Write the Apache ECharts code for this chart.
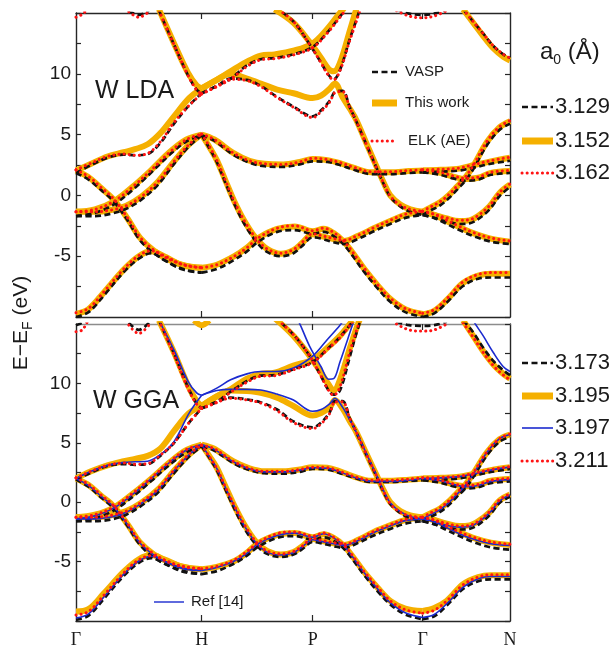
<!DOCTYPE html>
<html><head><meta charset="utf-8">
<script src="https://cdn.jsdelivr.net/npm/echarts@6/dist/echarts.min.js"></script>
<style>html,body{margin:0;padding:0;background:#fff}#c{width:614px;height:649px}</style>
</head><body><div id="c"></div>
<script>
// ---- high-symmetry path ----
const kPathPos = [0, 1, 1.883, 2.758, 3.453];
const kPathLabels = ['Γ', 'H', 'P', 'Γ', 'N'];
const yMin = -10, yMax = 15, yStep = 2.5;
const panelNames = ['W LDA', 'W GGA'];
const methodNames = ['VASP', 'This work', 'ELK (AE)'];
const refName = 'Ref [14]';
const ldaLattice = ['3.129', '3.152', '3.162'];
const ggaLattice = ['3.173', '3.195', '3.197', '3.211'];

// ---- k sampling of each band (shared by all data sets) ----
const kGrid = [
  [0,0.1,0.22,0.38,0.5,0.6,0.7,0.85,1],
  [0,0.1,0.2,0.3,0.41,0.51,0.62,0.75,0.88,1],
  [0,0.15,0.3,0.45,0.6,0.75,0.88,1],
  [0,0.15,0.28,0.4,0.52,0.65,0.78,0.9,1],
  [0,0.12,0.25,0.38,0.47,0.57,0.67,0.78,0.9,1],
  [0.66,0.78,0.89,0.96,1],
  [1,1.12,1.26,1.36,1.45,1.6,1.74,1.883,1.97,2.05,2.13,2.2,2.29,2.4,2.5,2.62,2.758],
  [1,1.06,1.12,1.19,1.26,1.34,1.43,1.52,1.63,1.73,1.8,1.883,1.95,2.05,2.13,2.25,2.37,2.5,2.62,2.758],
  [1,1.1,1.25,1.38,1.5,1.65,1.78,1.883,2.0,2.1,2.2,2.35,2.5,2.65,2.758],
  [1,1.12,1.23,1.36,1.47,1.6,1.73,1.883,1.95,2.02,2.06,2.12,2.18,2.23,2.31,2.39,2.45,2.5,2.58,2.66,2.758],
  [1,1.12,1.23,1.36,1.47,1.58,1.73,1.883,2.0,2.1,2.2],
  [1.58,1.73,1.86,1.95,2.01,2.05,2.1,2.18,2.23,2.28],
  [2.758,2.85,2.95,3.08,3.2,3.3,3.453],
  [2.758,2.85,2.95,3.05,3.16,3.3,3.453],
  [2.758,2.85,2.95,3.05,3.13,3.2,3.29,3.37,3.453],
  [2.758,2.82,2.9,2.97,3.03,3.1,3.16,3.27,3.37,3.453],
  [2.758,2.9,3.05,3.17,3.3,3.453],
  [2.758,2.9,3.0,3.1,3.2,3.3,3.453],
  [3.08,3.16,3.24,3.32,3.4,3.453],
  [0,0.05,0.09],
  [0.42,0.5,0.58],
  [2.55,2.65,2.758,2.85,2.95],
  [0.94,1,1.06]
];

// ---- LDA energies (eV) ----
const ldaVasp = [
  [-10.0,-9.6,-8.25,-6.3,-5.2,-4.75,-5.3,-6.1,-6.35],
  [1.85,1.3,0.45,-0.5,-2.05,-3.7,-4.75,-5.6,-6.15,-6.35],
  [-1.7,-1.45,-0.75,0.45,1.9,3.4,4.45,4.95],
  [-1.7,-1.7,-1.5,-1.1,-0.35,0.85,2.6,4.05,4.95],
  [1.85,2.5,3.1,3.35,3.3,3.4,4.3,5.9,7.4,8.4],
  [15.2,12.4,9.9,8.7,8.4],
  [-6.35,-6.05,-5.3,-4.6,-3.8,-3.0,-2.85,-3.15,-3.0,-3.35,-4.05,-4.95,-6.25,-7.65,-8.75,-9.6,-10.0],
  [4.95,3.9,2.75,1.0,-0.7,-2.35,-3.75,-4.65,-5.0,-4.75,-4.15,-3.45,-3.55,-3.85,-4.0,-3.55,-2.95,-2.35,-1.85,-1.6],
  [4.95,4.5,3.35,2.7,2.4,2.35,2.55,2.8,2.75,2.5,2.15,1.75,1.75,1.85,1.9],
  [8.4,9.0,9.6,9.5,9.0,8.1,7.3,6.5,7.0,7.8,8.5,8.6,7.2,6.1,4.2,2.3,0.9,-0.1,-0.9,-1.35,-1.6],
  [8.4,9.0,9.6,10.7,11.2,11.3,11.6,12.2,13.4,14.7,16.0],
  [15.5,14.3,12.4,10.9,9.9,9.55,10.3,12.9,14.4,16.0],
  [-10.0,-9.7,-8.8,-7.45,-6.85,-6.75,-6.75],
  [-1.6,-1.85,-2.35,-2.85,-3.35,-3.8,-4.0],
  [-1.6,-1.85,-2.15,-2.35,-2.3,-1.95,-1.15,-0.05,0.7],
  [-1.6,-1.25,-0.8,-0.2,0.45,1.25,2.15,4.15,5.4,5.9],
  [1.9,1.95,2.05,2.3,2.6,2.85],
  [1.9,1.7,1.4,1.2,1.3,1.7,1.85],
  [15.3,14.3,13.3,12.3,11.6,11.3],
  null,
  [15.2,14.85,15.2],
  [15.3,14.95,14.85,14.95,15.3],
  null
];
const ldaThis = [
  [-9.75,-9.35,-8.0,-6.1,-5.0,-4.6,-5.0,-5.75,-5.95],
  [2.05,1.5,0.6,-0.35,-1.9,-3.5,-4.55,-5.35,-5.8,-5.95],
  [-1.35,-1.15,-0.5,0.7,2.1,3.6,4.6,5.0],
  [-1.35,-1.35,-1.2,-0.85,-0.1,1.1,2.8,4.2,5.0],
  [2.05,2.6,3.2,3.55,3.8,4.2,5.1,6.5,8.0,8.8],
  [15.3,12.5,10.1,9.05,8.8],
  [-5.95,-5.7,-5.0,-4.3,-3.5,-2.75,-2.55,-2.95,-2.75,-3.1,-3.8,-4.7,-6.0,-7.4,-8.5,-9.35,-9.75],
  [5.0,4.0,2.9,1.2,-0.5,-2.1,-3.5,-4.4,-4.8,-4.5,-3.9,-3.2,-3.35,-3.6,-3.75,-3.3,-2.7,-2.1,-1.6,-1.35],
  [5.0,4.6,3.5,2.85,2.6,2.55,2.75,3.0,2.9,2.65,2.3,1.9,1.9,2.0,2.05],
  [8.8,9.5,10.0,9.6,9.2,8.7,8.4,8.0,8.2,8.8,9.2,8.1,7.1,6.2,4.3,2.4,1.0,0.0,-0.75,-1.15,-1.35],
  [8.8,9.5,10.2,11.0,11.5,11.6,11.9,12.5,13.7,15.0,16.2],
  [15.3,14.2,12.6,11.3,10.4,10.2,10.9,13.6,15.3,16.8],
  [-9.8,-9.5,-8.6,-7.2,-6.6,-6.45,-6.45],
  [-1.35,-1.6,-2.1,-2.6,-3.1,-3.55,-3.8],
  [-1.35,-1.6,-1.9,-2.1,-2.05,-1.7,-0.9,0.2,0.9],
  [-1.35,-1.0,-0.55,0.05,0.7,1.5,2.4,4.4,5.6,6.1],
  [2.05,2.1,2.2,2.5,2.8,3.1],
  [2.05,1.85,1.55,1.35,1.45,1.85,2.0],
  [15.3,14.2,13.1,12.1,11.4,11.1],
  null, null, null, null
];
const ldaElk = [
  [-9.65,-9.3,-7.95,-6.05,-4.95,-4.55,-4.95,-5.7,-5.95],
  [2.1,1.55,0.65,-0.3,-1.85,-3.45,-4.5,-5.3,-5.75,-5.95],
  [-1.35,-1.15,-0.5,0.7,2.1,3.6,4.6,5.05],
  [-1.35,-1.35,-1.2,-0.85,-0.1,1.1,2.8,4.2,5.05],
  [2.1,2.65,3.2,3.4,3.3,3.45,4.4,6.0,7.4,8.35],
  [15.2,12.4,9.9,8.65,8.35],
  [-5.95,-5.7,-5.0,-4.3,-3.5,-2.7,-2.5,-2.9,-2.7,-3.05,-3.75,-4.65,-5.95,-7.35,-8.45,-9.3,-9.7],
  [5.05,4.05,2.9,1.2,-0.5,-2.1,-3.5,-4.4,-4.75,-4.45,-3.85,-3.15,-3.3,-3.55,-3.7,-3.25,-2.65,-2.05,-1.55,-1.3],
  [5.05,4.6,3.5,2.85,2.6,2.55,2.75,3.05,2.95,2.7,2.35,1.95,1.95,2.05,2.1],
  [8.35,8.95,9.55,9.45,8.95,8.05,7.25,6.4,6.9,7.7,8.45,8.55,7.15,6.1,4.2,2.3,0.95,-0.05,-0.8,-1.15,-1.3],
  [8.35,8.95,9.55,10.6,11.15,11.25,11.55,12.15,13.35,14.65,16.0],
  [15.5,14.3,12.4,10.9,9.85,9.5,10.25,12.8,14.3,15.9],
  [-9.7,-9.4,-8.5,-7.1,-6.5,-6.35,-6.35],
  [-1.3,-1.55,-2.05,-2.55,-3.05,-3.5,-3.75],
  [-1.3,-1.55,-1.85,-2.05,-2.0,-1.65,-0.85,0.25,0.95],
  [-1.3,-0.95,-0.5,0.1,0.75,1.55,2.45,4.45,5.65,6.15],
  [2.1,2.15,2.25,2.55,2.85,3.15],
  [2.1,1.9,1.6,1.4,1.5,1.9,2.05],
  [15.3,14.3,13.3,12.3,11.6,11.3],
  [14.65,14.9,15.3],
  [15.1,14.65,15.1],
  [15.2,14.75,14.6,14.75,15.2],
  null
];

// ---- GGA energies (eV) ----
const ggaVasp = [
  [-9.9,-9.55,-8.15,-6.2,-5.1,-4.7,-5.15,-5.85,-6.05],
  [1.9,1.3,0.4,-0.5,-2.0,-3.6,-4.65,-5.4,-5.85,-6.05],
  [-1.6,-1.35,-0.7,0.45,1.8,3.2,4.2,4.7],
  [-1.6,-1.6,-1.45,-1.05,-0.3,0.8,2.45,3.85,4.7],
  [1.9,2.5,3.05,3.2,3.15,3.2,3.9,5.0,6.7,7.9],
  [15.3,12.5,9.7,8.3,7.9],
  [-6.05,-5.8,-5.15,-4.5,-3.75,-3.0,-2.85,-3.15,-2.95,-3.25,-3.9,-4.8,-6.1,-7.5,-8.6,-9.45,-9.85],
  [4.7,3.75,2.7,1.05,-0.55,-2.2,-3.55,-4.35,-4.6,-4.4,-3.95,-3.35,-3.45,-3.7,-3.85,-3.4,-2.8,-2.25,-1.8,-1.6],
  [4.7,4.35,3.3,2.7,2.45,2.4,2.55,2.8,2.75,2.45,2.1,1.7,1.7,1.8,1.85],
  [7.9,8.45,8.8,8.65,8.4,7.8,6.8,6.3,6.7,7.6,8.5,8.5,7.0,5.9,4.0,2.2,0.8,-0.15,-0.9,-1.35,-1.6],
  [7.9,8.45,9.3,10.2,10.65,10.7,11.2,11.8,12.9,13.9,15.2],
  [15.6,14.1,12.3,10.6,9.4,9.05,9.4,12.3,14.2,15.8],
  [-9.85,-9.6,-8.7,-7.3,-6.65,-6.5,-6.5],
  [-1.6,-1.85,-2.35,-2.85,-3.35,-3.8,-4.0],
  [-1.6,-1.85,-2.1,-2.3,-2.25,-1.9,-1.1,-0.05,0.45],
  [-1.6,-1.25,-0.8,-0.2,0.45,1.2,2.1,3.95,5.1,5.5],
  [1.85,1.9,2.0,2.25,2.55,2.8],
  [1.85,1.65,1.35,1.15,1.25,1.6,1.75],
  [15.3,14.3,13.0,11.9,11.1,10.7],
  [14.9,15.1,15.4],
  [15.1,14.5,15.1],
  [15.2,14.9,14.85,14.9,15.2],
  null
];
const ggaThis = [
  [-9.2,-9.0,-7.7,-5.85,-4.8,-4.45,-4.8,-5.45,-5.65],
  [2.0,1.45,0.55,-0.35,-1.85,-3.4,-4.4,-5.1,-5.5,-5.65],
  [-1.27,-1.05,-0.45,0.7,2.0,3.4,4.4,4.85],
  [-1.27,-1.27,-1.1,-0.75,-0.05,1.05,2.65,4.0,4.85],
  [2.0,2.6,3.1,3.45,3.65,3.9,4.5,6.0,7.5,8.1],
  [15.3,12.6,9.85,8.5,8.1],
  [-5.65,-5.45,-4.95,-4.25,-3.45,-2.75,-2.6,-2.95,-2.7,-3.0,-3.65,-4.55,-5.85,-7.2,-8.3,-8.95,-9.15],
  [4.85,3.9,2.9,1.3,-0.3,-1.9,-3.3,-4.1,-4.4,-4.2,-3.7,-3.1,-3.25,-3.45,-3.6,-3.15,-2.5,-1.95,-1.5,-1.27],
  [4.85,4.5,3.45,2.85,2.6,2.6,2.75,2.95,2.9,2.6,2.2,1.8,1.8,1.9,2.0],
  [8.1,8.9,9.4,9.35,9.2,8.8,8.1,7.3,7.5,8.0,8.6,7.9,6.8,5.9,4.1,2.3,0.95,0.0,-0.75,-1.1,-1.27],
  [8.1,8.9,9.5,10.4,10.8,10.9,11.5,12.0,13.0,14.0,15.3],
  [15.5,14.0,12.3,10.9,9.9,9.4,10.3,13.0,14.6,16.0],
  [-9.15,-8.9,-8.3,-6.9,-6.3,-6.15,-6.15],
  [-1.27,-1.5,-2.0,-2.5,-3.0,-3.4,-3.6],
  [-1.27,-1.5,-1.8,-2.0,-1.95,-1.6,-0.85,0.15,0.65],
  [-1.27,-0.95,-0.5,0.1,0.75,1.5,2.4,4.2,5.3,5.7],
  [2.0,2.05,2.15,2.4,2.7,2.95],
  [2.0,1.8,1.5,1.35,1.45,1.8,1.95],
  [15.3,14.0,12.7,11.6,10.8,10.4],
  null, null, null,
  [15.3,14.9,15.3]
];
const ggaRef = [
  [-9.75,-9.4,-8.0,-6.05,-4.95,-4.55,-4.95,-5.6,-5.75],
  [2.0,1.4,0.5,-0.4,-1.9,-3.45,-4.45,-5.2,-5.6,-5.75],
  [-1.4,-1.15,-0.5,0.65,2.0,3.4,4.4,4.85],
  [-1.4,-1.4,-1.25,-0.85,-0.1,1.0,2.65,4.0,4.85],
  [2.0,2.6,3.1,3.35,3.4,3.45,4.0,5.1,7.5,9.0],
  [15.3,12.8,10.2,9.2,9.0],
  [-5.75,-5.5,-4.95,-4.3,-3.5,-2.8,-2.6,-2.95,-2.65,-3.0,-3.65,-4.6,-5.9,-7.3,-8.45,-9.3,-9.7],
  [4.85,3.85,2.85,1.2,-0.35,-2.0,-3.4,-4.2,-4.45,-4.25,-3.75,-3.15,-3.3,-3.5,-3.65,-3.2,-2.55,-2.0,-1.55,-1.4],
  [4.85,4.45,3.4,2.8,2.55,2.55,2.7,2.9,2.85,2.55,2.15,1.75,1.75,1.85,2.0],
  [9.0,9.4,9.5,9.5,9.45,9.1,8.6,7.65,7.8,8.3,8.75,8.0,6.9,5.9,4.1,2.3,0.9,-0.05,-0.8,-1.2,-1.4],
  [9.0,9.6,10.3,10.8,11.0,11.0,11.3,12.3,13.7,14.9,16.3],
  [17.5,16.0,13.1,11.4,10.35,10.4,11.8,14.3,15.9,17.5],
  [-9.7,-9.45,-8.55,-7.15,-6.45,-6.25,-6.25],
  [-1.4,-1.65,-2.15,-2.65,-3.1,-3.5,-3.65],
  [-1.4,-1.65,-1.95,-2.1,-2.05,-1.7,-0.9,0.1,0.6],
  [-1.4,-1.05,-0.6,0.0,0.65,1.45,2.35,4.2,5.35,5.7],
  [2.0,2.05,2.15,2.4,2.7,2.95],
  [2.0,1.8,1.5,1.3,1.4,1.75,1.9],
  [17.0,15.3,14.0,12.6,11.4,11.0],
  null, null, null, null
];
const ggaElk = [
  [-9.5,-9.2,-7.85,-5.95,-4.85,-4.5,-4.85,-5.45,-5.6],
  [2.05,1.5,0.6,-0.3,-1.8,-3.35,-4.35,-5.1,-5.45,-5.6],
  [-1.27,-1.05,-0.4,0.75,2.05,3.45,4.45,4.8],
  [-1.27,-1.27,-1.1,-0.75,0.0,1.1,2.7,4.05,4.8],
  [2.05,2.6,3.1,3.3,3.2,3.25,3.95,5.0,6.7,7.9],
  [15.3,12.4,9.6,8.25,7.9],
  [-5.6,-5.4,-4.85,-4.15,-3.4,-2.65,-2.5,-2.85,-2.6,-2.95,-3.6,-4.5,-5.8,-7.15,-8.3,-9.05,-9.35],
  [4.8,3.85,2.85,1.25,-0.3,-1.9,-3.3,-4.1,-4.35,-4.15,-3.7,-3.05,-3.2,-3.4,-3.55,-3.1,-2.45,-1.9,-1.45,-1.27],
  [4.8,4.5,3.45,2.85,2.6,2.6,2.75,2.95,2.9,2.6,2.2,1.85,1.85,1.95,2.05],
  [7.9,8.4,8.75,8.6,8.35,7.7,6.7,6.2,6.6,7.5,8.45,8.45,7.0,5.9,4.05,2.25,0.85,-0.1,-0.85,-1.15,-1.27],
  [7.9,8.4,9.25,10.1,10.6,10.65,11.15,11.75,12.85,13.85,15.2],
  [15.6,14.1,12.3,10.6,9.4,9.0,9.7,12.7,14.4,15.9],
  [-9.35,-9.1,-8.3,-6.95,-6.3,-6.1,-6.1],
  [-1.27,-1.5,-2.0,-2.5,-2.95,-3.35,-3.55],
  [-1.27,-1.5,-1.8,-2.0,-1.95,-1.6,-0.8,0.2,0.7],
  [-1.27,-0.9,-0.45,0.15,0.8,1.55,2.45,4.25,5.35,5.75],
  [2.05,2.1,2.2,2.45,2.75,3.0],
  [2.05,1.85,1.55,1.4,1.5,1.85,2.0],
  [15.1,13.9,12.6,11.5,10.7,10.3],
  [14.35,14.5,15.2],
  [14.9,14.2,14.9],
  [15.0,14.5,14.4,14.5,15.0],
  null
];

// ---- styles ----
const SANS = 'Liberation Sans, Arial, Helvetica, sans-serif';
const SERIF = 'Liberation Serif, Times New Roman, serif';
const styleOf = {
  vasp:  { color: '#111111', width: 2.7, type: [6, 3.5], z: 3 },
  thisw: { color: '#F5B000', width: 6, type: 'solid', z: 2 },
  ref:   { color: '#1B2ACF', width: 1.6, type: 'solid', z: 4 },
  elk:   { color: '#FF1414', width: 3, type: [0.1, 5], cap: 'round', z: 5 }
};

const panels = [
  { sets: [[ldaThis, 'thisw', 'This work'], [ldaVasp, 'vasp', 'VASP'], [ldaElk, 'elk', 'ELK (AE)']] },
  { sets: [[ggaThis, 'thisw', 'This work'], [ggaVasp, 'vasp', 'VASP'], [ggaRef, 'ref', refName], [ggaElk, 'elk', 'ELK (AE)']] }
];

const series = [];
panels.forEach((p, pi) => {
  p.sets.forEach(([bands, key, name]) => {
    const st = styleOf[key];
    bands.forEach((E, bi) => {
      if (!E) return;
      const ks = kGrid[bi];
      series.push({
        type: 'line', name: name,
        xAxisIndex: pi * 2, yAxisIndex: pi * 2,
        data: ks.map((k, j) => [k, E[j]]),
        symbol: 'none', showSymbol: false, smooth: 0.35,
        silent: true, animation: false, z: st.z,
        lineStyle: { color: st.color, width: st.width, type: st.type, cap: st.cap || 'butt', join: 'round' }
      });
    });
  });
});

const grids = [
  { left: 76, top: 13, width: 434, height: 304 },
  { left: 76, top: 324, width: 434, height: 303 }
];
const frameColor = '#262626';

function nearestLabel(v) {
  let bi = 0;
  kPathPos.forEach((p, i) => { if (Math.abs(p - v) < Math.abs(kPathPos[bi] - v)) bi = i; });
  return kPathLabels[bi];
}

const xAxes = [], yAxes = [];
grids.forEach((g, gi) => {
  ['bottom', 'top'].forEach(pos => {
    const lineCol = (gi === 1 && pos === 'top') ? '#8c8c8c' : frameColor;
    xAxes.push({
      type: 'value', gridIndex: gi, position: pos, min: 0, max: kPathPos[kPathPos.length - 1],
      axisLine: { show: true, onZero: false, lineStyle: { color: lineCol, width: 1.4 } },
      axisTick: { show: true, inside: true, length: 6, customValues: kPathPos.slice(1, -1), lineStyle: { color: frameColor, width: 1.2 } },
      axisLabel: {
        show: gi === 1 && pos === 'bottom', customValues: kPathPos, margin: 10,
        formatter: v => nearestLabel(v), fontFamily: SERIF, fontSize: 18, color: '#1a1a1a'
      },
      splitLine: { show: false }
    });
  });
  ['left', 'right'].forEach(pos => {
    yAxes.push({
      type: 'value', gridIndex: gi, position: pos, min: yMin, max: yMax, interval: yStep,
      axisLine: { show: true, onZero: false, lineStyle: { color: frameColor, width: 1.4 } },
      axisTick: { show: true, inside: true, length: 5, lineStyle: { color: frameColor, width: 1.2 } },
      axisLabel: {
        show: pos === 'left', margin: 5, fontFamily: SANS, fontSize: 19, color: '#1a1a1a',
        formatter: v => (Math.abs(v % 5) < 1e-9 && v > yMin && v < yMax) ? String(v) : ''
      },
      splitLine: { show: false }
    });
  });
});

// ---- legends & annotations (graphic) ----
function legLine(x1, x2, y, key, thick) {
  const st = styleOf[key];
  return {
    type: 'line', silent: true, z: 10,
    shape: { x1: x1, y1: y, x2: x2, y2: y },
    style: {
      stroke: st.color, lineWidth: thick || st.width,
      lineDash: Array.isArray(st.type) ? st.type : null, lineCap: st.cap || 'butt'
    }
  };
}
function txt(x, y, text, size, align, extra) {
  return Object.assign({
    type: 'text', silent: true, z: 10, x: x, y: y,
    style: { text: text, font: size + 'px ' + SANS, fill: '#1a1a1a', textAlign: align || 'left', textVerticalAlign: 'middle' }
  }, extra || {});
}

const g = [];
// panel labels
g.push(txt(95, 91, panelNames[0], 25));
g.push(txt(93, 401, panelNames[1], 25));
// inner legend (top panel)
const innerKeys = ['vasp', 'thisw', 'elk'];
const innerY = [72, 103, 141];
innerKeys.forEach((k, i) => {
  g.push(legLine(372, 397, innerY[i], k, k === 'thisw' ? 7 : null));
  g.push(txt(i === 2 ? 408 : 405, innerY[i], methodNames[i], 15));
});
// inner legend (bottom panel)
g.push(legLine(154, 184, 602, 'ref', 1.4));
g.push(txt(191, 602, refName, 15));
// right-hand legend: lattice constants
g.push({
  type: 'text', silent: true, z: 10, x: 540, y: 52,
  style: {
    text: '{a|a}{b|0}{a| (Å)}', fill: '#1a1a1a', textVerticalAlign: 'middle',
    rich: { a: { fontFamily: SANS, fontSize: 24, lineHeight: 30, verticalAlign: 'middle', fill: '#1a1a1a' },
            b: { fontFamily: SANS, fontSize: 14, lineHeight: 15, verticalAlign: 'bottom', fill: '#1a1a1a' } }
  }
});
const ldaKeys = ['vasp', 'thisw', 'elk'];
const ldaY = [107, 141, 173];
ldaKeys.forEach((k, i) => {
  g.push(legLine(522, 553, ldaY[i], k, k === 'thisw' ? 7 : null));
  g.push(txt(555, ldaY[i], ldaLattice[i], 22));
});
const ggaKeys = ['vasp', 'thisw', 'ref', 'elk'];
const ggaY = [363, 396, 428, 461];
ggaKeys.forEach((k, i) => {
  g.push(legLine(522, 553, ggaY[i], k, k === 'thisw' ? 7 : null));
  g.push(txt(555, ggaY[i], ggaLattice[i], 22));
});
// y-axis title
g.push({
  type: 'text', silent: true, z: 10, x: 21, y: 323, rotation: Math.PI / 2,
  style: {
    text: '{a|E−E}{b|F}{a| (eV)}', textAlign: 'center', textVerticalAlign: 'middle',
    rich: { a: { fontFamily: SANS, fontSize: 21, lineHeight: 28, verticalAlign: 'middle', fill: '#1a1a1a' },
            b: { fontFamily: SANS, fontSize: 14, lineHeight: 15, verticalAlign: 'bottom', fill: '#1a1a1a' } }
  }
});

const chart = echarts.init(document.getElementById('c'), null, { renderer: 'canvas' });
chart.setOption({
  backgroundColor: '#ffffff',
  animation: false,
  grid: grids,
  xAxis: xAxes,
  yAxis: yAxes,
  series: series,
  graphic: g
});
</script>
</body></html>
